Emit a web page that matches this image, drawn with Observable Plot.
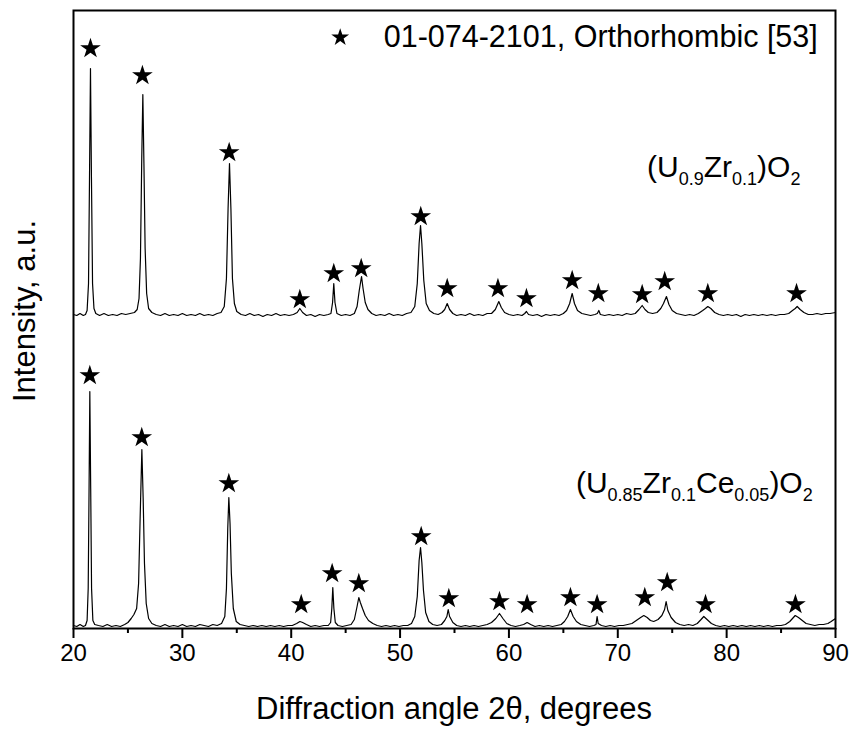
<!DOCTYPE html>
<html><head><meta charset="utf-8">
<script src="https://cdn.jsdelivr.net/npm/d3@7"></script>
<script src="https://cdn.jsdelivr.net/npm/@observablehq/plot@0.6"></script>
<style>body{margin:0;background:#fff} #chart svg{display:block}</style>
</head><body><div id="chart"></div>
<script>
// ---- data (2θ in degrees, intensity in arbitrary units) ----
const upperPattern = [
[20.0,314],[20.3,313],[20.6,315],[20.9,313],[21.1,314],[21.25,318],[21.38,345],[21.47,450],[21.56,560],[21.65,450],[21.75,345],[21.88,320],[22.05,315],[22.4,313],[22.8,315],[23.2,313],[23.6,314],[24.0,313],[24.4,315],[24.8,314],[25.2,315],[25.6,316],[25.85,319],[26.02,330],[26.15,370],[26.27,470],[26.37,534],[26.47,465],[26.58,380],[26.72,335],[26.9,320],[27.2,316],[27.6,314],[28.0,313],[28.4,315],[28.8,313],[29.2,314],[29.6,313],[30.0,315],[30.4,313],[30.8,314],[31.2,313],[31.6,315],[32.0,313],[32.4,314],[32.8,313],[33.2,315],[33.55,316],[33.85,322],[34.05,350],[34.2,420],[34.33,465],[34.46,420],[34.6,350],[34.78,325],[35.0,317],[35.4,314],[35.8,313],[36.2,315],[36.6,313],[37.0,314],[37.4,312],[37.8,314],[38.2,313],[38.6,315],[39.0,313],[39.4,314],[39.8,313],[40.2,314],[40.55,316],[40.79,320],[41.05,316],[41.4,313],[41.8,314],[42.2,312],[42.6,314],[43.0,313],[43.4,314],[43.65,315],[43.8,326],[43.91,345],[44.02,326],[44.2,315],[44.6,313],[45.0,314],[45.4,313],[45.8,315],[46.05,322],[46.25,338],[46.46,352],[46.6,340],[46.8,326],[47.05,319],[47.4,315],[47.8,313],[48.2,314],[48.6,313],[49.0,315],[49.4,313],[49.8,314],[50.2,313],[50.6,315],[51.0,316],[51.35,322],[51.58,345],[51.75,385],[51.88,403],[52.0,385],[52.18,348],[52.4,325],[52.7,318],[53.1,315],[53.5,314],[53.85,316],[54.1,319],[54.33,325],[54.55,319],[54.85,315],[55.2,313],[55.6,314],[56.0,313],[56.4,315],[56.8,313],[57.2,314],[57.6,313],[58.0,315],[58.4,315],[58.75,319],[59.07,327],[59.3,321],[59.6,316],[60.0,314],[60.4,313],[60.8,314],[61.2,313],[61.45,315],[61.61,317],[61.8,314],[62.2,313],[62.6,314],[63.0,312],[63.4,314],[63.8,313],[64.2,314],[64.6,313],[65.0,315],[65.3,318],[65.58,325],[65.81,335],[66.02,325],[66.3,318],[66.7,315],[67.1,314],[67.5,313],[67.9,314],[68.12,315],[68.26,318],[68.4,314],[68.8,313],[69.2,314],[69.6,313],[70.0,314],[70.4,313],[70.8,315],[71.2,314],[71.6,315],[71.95,319],[72.24,323],[72.5,319],[72.8,316],[73.2,315],[73.6,316],[73.95,320],[74.2,325],[74.47,332],[74.7,324],[75.0,318],[75.4,315],[75.8,314],[76.2,313],[76.6,314],[77.0,313],[77.4,315],[77.8,318],[78.05,320],[78.27,322],[78.55,320],[78.9,316],[79.3,314],[79.7,313],[80.1,314],[80.5,313],[80.9,314],[81.3,312],[81.7,314],[82.1,313],[82.5,314],[82.9,313],[83.3,314],[83.7,313],[84.1,314],[84.5,313],[84.9,314],[85.3,314],[85.7,315],[86.05,318],[86.3,320],[86.48,322],[86.75,319],[87.1,316],[87.5,314],[87.9,314],[88.3,315],[88.7,314],[89.1,315],[89.5,315],[90.0,316]
];
const lowerPattern = [
[20.0,3],[20.3,2],[20.6,4],[20.9,2],[21.1,3],[21.25,8],[21.35,40],[21.43,140],[21.5,237],[21.58,140],[21.66,40],[21.78,8],[21.95,4],[22.3,3],[22.7,2],[23.1,4],[23.5,2],[23.9,3],[24.3,2],[24.7,4],[25.0,6],[25.3,10],[25.55,14],[25.8,20],[25.98,45],[26.12,110],[26.28,179],[26.4,130],[26.52,65],[26.68,25],[26.9,10],[27.2,5],[27.6,3],[28.0,2],[28.4,4],[28.8,2],[29.2,3],[29.6,2],[30.0,4],[30.4,2],[30.8,3],[31.2,2],[31.6,4],[32.0,3],[32.4,2],[32.8,4],[33.2,3],[33.6,5],[33.9,12],[34.05,40],[34.17,100],[34.27,131],[34.38,105],[34.5,55],[34.68,20],[34.95,7],[35.3,4],[35.7,3],[36.1,2],[36.5,3],[36.9,2],[37.3,3],[37.7,2],[38.1,3],[38.5,2],[38.9,3],[39.3,2],[39.7,3],[40.1,3],[40.5,5],[40.8,7],[41.05,6],[41.4,4],[41.8,2],[42.2,3],[42.6,2],[43.0,3],[43.4,3],[43.62,6],[43.73,20],[43.82,41],[43.92,20],[44.05,6],[44.3,3],[44.7,2],[45.1,3],[45.5,4],[45.8,9],[46.05,22],[46.21,31],[46.35,26],[46.55,20],[46.8,13],[47.1,8],[47.5,5],[47.9,3],[48.3,2],[48.7,3],[49.1,2],[49.5,3],[49.9,2],[50.3,3],[50.7,3],[51.05,5],[51.35,12],[51.58,32],[51.75,68],[51.88,81],[52.0,66],[52.15,38],[52.35,16],[52.65,7],[53.0,4],[53.4,3],[53.8,4],[54.1,8],[54.3,12],[54.42,19],[54.55,12],[54.85,6],[55.2,3],[55.6,2],[56.0,3],[56.4,2],[56.8,3],[57.2,2],[57.6,3],[58.0,4],[58.4,6],[58.8,10],[59.13,15],[59.45,10],[59.8,5],[60.2,3],[60.6,2],[61.0,3],[61.35,4],[61.67,6],[62.0,4],[62.4,2],[62.8,3],[63.2,2],[63.6,3],[64.0,2],[64.4,3],[64.8,4],[65.1,7],[65.4,12],[65.65,19],[65.9,12],[66.2,7],[66.6,4],[67.0,3],[67.4,2],[67.8,3],[68.0,4],[68.1,12],[68.2,5],[68.5,3],[68.9,2],[69.3,3],[69.7,2],[70.1,3],[70.5,3],[70.9,4],[71.3,5],[71.7,8],[72.1,11],[72.39,13],[72.7,11],[73.0,8],[73.3,7],[73.7,9],[74.05,13],[74.3,19],[74.44,27],[74.6,18],[74.9,11],[75.3,6],[75.7,4],[76.1,3],[76.5,4],[76.9,3],[77.3,5],[77.65,9],[77.9,12],[78.2,9],[78.6,5],[79.0,3],[79.4,2],[79.8,3],[80.2,2],[80.6,3],[81.0,2],[81.4,3],[81.8,2],[82.2,3],[82.6,2],[83.0,3],[83.4,2],[83.8,3],[84.2,2],[84.6,3],[85.0,3],[85.4,4],[85.8,7],[86.05,10],[86.3,13],[86.6,11],[86.95,8],[87.3,5],[87.7,4],[88.1,3],[88.5,4],[88.9,4],[89.3,5],[89.6,7],[90.0,10]
];
// reference-pattern markers (★) above each reflection
const upperStarX = [21.56,26.33,34.30,40.79,43.91,46.43,51.90,54.33,58.99,61.61,65.81,68.21,72.24,74.31,78.27,86.42];
const upperStarY = [580,553,476,329,355,360,412,340,340,330,348,335,334,347,335,335];
const lowerStarX = [21.50,26.27,34.27,40.92,43.76,46.21,51.94,54.48,59.13,61.67,65.65,68.10,72.48,74.54,78.06,86.32];
const lowerStarY = [253,191,145,24,55,45,92,30,27,24,31,24,31,46,24,24];

const xTicksMajor = [20,30,40,50,60,70,80,90];
const xTicksMinor = [25,35,45,55,65,75,85];
const legendLabel = ["01-074-2101, Orthorhombic [53]"];
const xTitle = "Diffraction angle 2\u03B8, degrees";
const yTitle = "Intensity, a.u.";
const upperName = [["(U",false],["0.9",true],["Zr",false],["0.1",true],[")O",false],["2",true]];
const lowerName = [["(U",false],["0.85",true],["Zr",false],["0.1",true],["Ce",false],["0.05",true],[")O",false],["2",true]];

const FONT = "'Liberation Sans', Arial, Helvetica, sans-serif";

const chart = Plot.plot({
  width: 852, height: 734,
  marginTop: 10, marginBottom: 106, marginLeft: 73, marginRight: 17,
  style: {fontFamily: FONT, color: "black", background: "white", overflow: "visible"},
  x: {domain: [20, 90]},
  y: {domain: [0, 618], axis: null},
  marks: [
    Plot.line(upperPattern, {x: d => d[0], y: d => d[1], stroke: "black", strokeWidth: 1.2}),
    Plot.line(lowerPattern, {x: d => d[0], y: d => d[1], stroke: "black", strokeWidth: 1.2}),
    Plot.dot(upperStarX, {x: d => d, y: (d, i) => upperStarY[i], symbol: "star", r: 6.5, fill: "black", stroke: "none"}),
    Plot.dot(lowerStarX, {x: d => d, y: (d, i) => lowerStarY[i], symbol: "star", r: 6.5, fill: "black", stroke: "none"}),
    Plot.dot(legendLabel, {x: 44.5, y: 591, symbol: "star", r: 5.6, fill: "black", stroke: "none"}),
    Plot.text(legendLabel, {x: 48.5, y: 591, text: d => d, textAnchor: "start", fontSize: 30.5, fill: "black"}),
    Plot.frame({stroke: "black", strokeWidth: 2}),
    Plot.axisX({ticks: xTicksMajor, tickSize: 10, tickPadding: 5, fontSize: 24, label: null, strokeWidth: 2, tickFormat: d => String(d)}),
    Plot.axisX({ticks: xTicksMinor, tickSize: 5, label: null, strokeWidth: 2, tickFormat: () => ""})
  ]
});
document.getElementById("chart").append(chart);

const svg = d3.select(chart);
const xs = chart.scale("x"), ys = chart.scale("y");
const x0 = xs.apply(20), x1 = xs.apply(90);

svg.append("text").attr("x", (x0 + x1) / 2).attr("y", 719)
  .attr("text-anchor", "middle").attr("font-family", FONT).attr("font-size", 31).attr("fill", "black")
  .text(xTitle);
svg.append("text").attr("transform", "translate(35,311) rotate(-90)")
  .attr("text-anchor", "middle").attr("font-family", FONT).attr("font-size", 31).attr("fill", "black")
  .text(yTitle);

function formula(parts, x, y) {
  const t = svg.append("text").attr("x", xs.apply(x)).attr("y", ys.apply(y))
    .attr("text-anchor", "start")
    .attr("font-family", FONT).attr("font-size", 30).attr("fill", "black");
  let down = false;
  for (const [s, sub] of parts) {
    const sp = t.append("tspan").attr("font-size", sub ? 18 : 30).text(s);
    if (sub && !down) { sp.attr("dy", 7.5); down = true; }
    else if (!sub && down) { sp.attr("dy", -7.5); down = false; }
  }
}
formula(upperName, 72.73, 451);
formula(lowerName, 66.2, 135);
</script>
</body></html>
